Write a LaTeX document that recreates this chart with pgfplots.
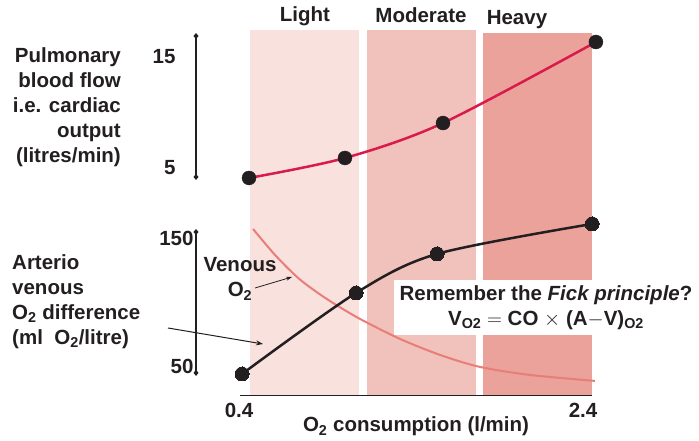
\documentclass[border=0pt]{standalone}
\usepackage{fontspec}
\setmainfont{Liberation Sans}
\usepackage{pgfplots}
\pgfplotsset{compat=1.18}
\usetikzlibrary{arrows.meta}
\definecolor{txt}{HTML}{231F20}
\definecolor{bandL}{HTML}{F9E1DD}
\definecolor{bandM}{HTML}{F1C1BB}
\definecolor{bandH}{HTML}{EAA29B}
\definecolor{coRed}{HTML}{D81B4A}
\definecolor{venous}{HTML}{E97D78}
\newcommand{\bigf}{\fontsize{20.5}{25}\selectfont\bfseries}
\begin{document}
\begin{tikzpicture}
\useasboundingbox (0,0) rectangle (699pt,441pt);
% ---------- lower axis: A-V O2 difference ----------
\begin{axis}[at={(196pt,45pt)}, anchor=south west, scale only axis,
  x=176pt, y=1.28pt, xmin=0.1386, xmax=2.5, ymin=27.3, ymax=165,
  clip=false, axis x line*=bottom, axis y line*=left,
  axis line style={draw=none}, major tick length=0pt,
  /pgf/number format/assume math mode=true,
  ticklabel style={font=\bigf, text=txt},
  xtick={0.4}, xticklabels={0.4},
  extra x ticks={2.4}, extra x tick labels={2.4},
  extra x tick style={xticklabel style={xshift=-8pt}},
  xticklabel style={yshift=-4pt, xshift=-3pt},
  ytick={50,150}, yticklabels={50,150},
  yticklabel style={xshift=1pt}]
  % exercise bands
  \addplot[fill=bandL, draw=none] coordinates {(0.4455,27.3) (0.4455,313.3) (1.0648,313.3) (1.0648,27.3)} -- cycle;
  \addplot[fill=bandM, draw=none] coordinates {(1.110,27.3) (1.110,313.3) (1.7295,313.3) (1.7295,27.3)} -- cycle;
  \addplot[fill=bandH, draw=none] coordinates {(1.769,27.3) (1.769,310.9) (2.3886,310.9) (2.3886,27.3)} -- cycle;
  % x axis line
  \draw[txt, line width=1pt] (axis cs:0.3886,27.3) -- (axis cs:2.3886,27.3);
  % y axis line
  \draw[txt, line width=1.5pt, {Diamond[length=6pt,width=5pt]}-{Diamond[length=6pt,width=5pt]}]
    (axis cs:0.1386,43.0) -- (axis cs:0.1386,157.8);
  % venous O2
  \addplot[venous, line width=2pt, smooth, no marks] coordinates {
    (0.4625,157.8) (0.5875,137.5) (0.7125,120.3) (0.8148,109.4) (0.917,100.0) (1.0705,87.5)
    (1.2977,71.9) (1.525,59.4) (1.7523,50.0) (2.0364,43.75) (2.4057,39.1)};
  % A-V difference
  \addplot[txt, line width=2.5pt, smooth, mark=*, mark size=7pt, mark options={fill=txt, draw=txt, line width=0pt}] coordinates {
    (0.4,44.5) (1.048,107.8) (1.508,138.3) (2.389,161.7)};
\end{axis}
% ---------- upper axis: cardiac output ----------
\begin{axis}[at={(196pt,260.8pt)}, anchor=south west, scale only axis,
  x=176pt, y=11.1pt, xmin=0.1386, xmax=2.5, ymin=3.9, ymax=17.2,
  clip=false, axis x line*=bottom, axis y line*=left,
  axis line style={draw=none}, major tick length=0pt,
  /pgf/number format/assume math mode=true,
  ticklabel style={font=\bigf, text=txt},
  xtick=\empty, ytick={5,15}, yticklabels={5,15},
  yticklabel style={xshift=-17pt}]
  \draw[txt, line width=1.5pt, {Diamond[length=6pt,width=5pt]}-{Diamond[length=6pt,width=5pt]}]
    (axis cs:0.1386,3.92) -- (axis cs:0.1386,17.16);
  \addplot[only marks, mark=*, mark size=7pt, mark options={fill=txt, draw=txt}] coordinates {
    (0.4398,4.1) (0.985,5.9) (1.542,9.05) (2.411,16.35)};
  \addplot[coRed, line width=2.5pt, smooth, no marks] coordinates {
    (0.4398,4.1) (0.985,5.9) (1.542,9.05) (2.411,16.35)};
\end{axis}
% ---------- texts ----------
\node[anchor=east, align=right, font=\bigf, text=txt, inner sep=0pt] at (121pt,334pt)
  {Pulmonary\\blood flow\\i.e. cardiac\\output\\(litres/min)};
\node[anchor=west, align=left, font=\bigf, text=txt, inner sep=0pt] at (12pt,139pt)
  {Arterio\\venous\\O\textsubscript{2} difference\\(ml~ O\textsubscript{2}/litre)};
\node[anchor=base, font=\bigf, text=txt] at (305pt,419pt) {Light};
\node[anchor=base, font=\bigf, text=txt] at (421pt,418pt) {Moderate};
\node[anchor=base, font=\bigf, text=txt] at (517pt,416pt) {Heavy};
\node[anchor=base, font=\bigf, text=txt] at (240pt,169pt) {Venous};
\node[anchor=base, font=\bigf, text=txt] at (240pt,144pt) {O\textsubscript{2}};
\draw[txt, line width=0.8pt, -{Stealth[length=6pt,width=4pt]}] (255pt,153pt) -- (292pt,164pt);
\draw[txt, line width=1pt, -{Stealth[length=7pt,width=5pt]}] (168pt,113pt) -- (263pt,97pt);
\node[fill=white, align=center, font=\bigf, text=txt, minimum width=305pt, minimum height=55pt, inner sep=2pt] at (546pt,133pt)
  {Remember the \textit{Fick principle}?\\V\textsubscript{O2} $=$ CO $\times$ (A$-$V)\textsubscript{O2}};
\node[anchor=base, font=\bigf, text=txt] at (416pt,9pt) {O\textsubscript{2} consumption (l/min)};
\end{tikzpicture}
\end{document}
